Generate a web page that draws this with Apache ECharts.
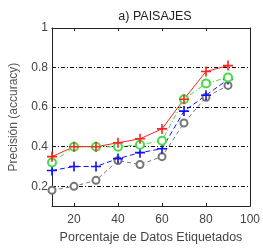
<!DOCTYPE html>
<html>
<head>
<meta charset="utf-8">
<script src="https://cdn.jsdelivr.net/npm/echarts@6/dist/echarts.min.js"></script>
<style>
    html, body { margin: 0; padding: 0; background: #fff; }
    #chart { width: 263px; height: 249px; }
</style>
</head>
<body>
<div id="chart"></div>
<script>
// porcentaje de datos etiquetados
const xs = [10, 20, 30, 40, 50, 60, 70, 80, 90]
const xTicks = [20, 40, 60, 80, 100]
const yTicks = [0.2, 0.4, 0.6, 0.8, 1]

// precision de cada metodo
const redVals = [0.35, 0.40, 0.40, 0.42, 0.44, 0.49, 0.64, 0.78, 0.81]
const greenVals = [0.32, 0.40, 0.40, 0.40, 0.41, 0.43, 0.64, 0.72, 0.75]
const blueVals = [0.28, 0.30, 0.30, 0.34, 0.37, 0.39, 0.58, 0.66, 0.74]
const blackVals = [0.18, 0.20, 0.23, 0.33, 0.31, 0.35, 0.52, 0.65, 0.71]

const plus = 'path://M4.2,0h1.6v4.2h4.2v1.6h-4.2v4.2h-1.6v-4.2h-4.2v-1.6h4.2z'
const font = 'Liberation Sans'

function pairs(vals) {
    return xs.map((x, i) => [x, vals[i]])
}

function mkSeries(vals, color, lineType, symbol, size, width) {
    return {
        type: 'line',
        data: pairs(vals),
        symbol: symbol,
        symbolSize: size,
        showSymbol: true,
        lineStyle: { color: color, width: 1, type: lineType },
        itemStyle: { color: color, borderColor: color, borderWidth: width },
        z: 3
    }
}

const chart = echarts.init(document.getElementById('chart'))
chart.setOption({
    animation: false,
    title: {
        text: 'a) PAISAJES',
        left: 150,
        textAlign: 'center',
        top: 5,
        textStyle: { fontFamily: font, fontSize: 12.5, fontWeight: 'normal', color: '#222' }
    },
    grid: { left: 48, right: 11, top: 28, bottom: 34, show: false },
    xAxis: [{
        type: 'value',
        min: 10,
        max: 100,
        name: 'Porcentaje de Datos Etiquetados',
        nameLocation: 'middle',
        nameGap: 20,
        nameTextStyle: { fontFamily: font, fontSize: 12.5, color: '#444' },
        axisLine: { show: true, onZero: false, lineStyle: { color: '#222', width: 1 } },
        axisTick: { show: true, inside: true, length: 3, customValues: xTicks, lineStyle: { color: '#222' } },
        axisLabel: { customValues: xTicks, margin: 8, fontFamily: font, fontSize: 12, color: '#444' },
        splitLine: { show: false }
    }, {
        type: 'value',
        position: 'top',
        min: 10,
        max: 100,
        axisLine: { show: true, onZero: false, lineStyle: { color: '#222', width: 1 } },
        axisTick: { show: true, inside: true, length: 3, customValues: xTicks, lineStyle: { color: '#222' } },
        axisLabel: { show: false },
        splitLine: { show: false }
    }],
    yAxis: [{
        type: 'value',
        min: 0.1,
        max: 1,
        name: 'Precisión (accuracy)',
        nameLocation: 'middle',
        nameGap: 32,
        nameTextStyle: { fontFamily: font, fontSize: 12, color: '#555' },
        axisLine: { show: true, onZero: false, lineStyle: { color: '#222', width: 1 } },
        axisTick: { show: false, customValues: yTicks },
        axisLabel: {
            customValues: yTicks, margin: 4, fontFamily: font, fontSize: 12, color: '#444',
            formatter: v => (v === 1 ? '1' : v.toFixed(1))
        },
        splitLine: { show: true, lineStyle: { color: '#111', width: 1, type: [4, 2, 1, 2] } }
    }, {
        type: 'value',
        position: 'right',
        min: 0.1,
        max: 1,
        axisLine: { show: true, onZero: false, lineStyle: { color: '#222', width: 1 } },
        axisTick: { show: false },
        axisLabel: { show: false },
        splitLine: { show: false }
    }],
    series: [
        mkSeries(blackVals, '#777', [4, 3], 'emptyCircle', 7, 0.8),
        mkSeries(blueVals, '#1010ff', [5, 3], plus, 10, 0),
        mkSeries(greenVals, '#44dd44', [5, 2, 1, 2], 'emptyCircle', 8, 1.5),
        mkSeries(redVals, '#ff2222', 'solid', plus, 10, 0)
    ]
})
</script>
</body>
</html>
